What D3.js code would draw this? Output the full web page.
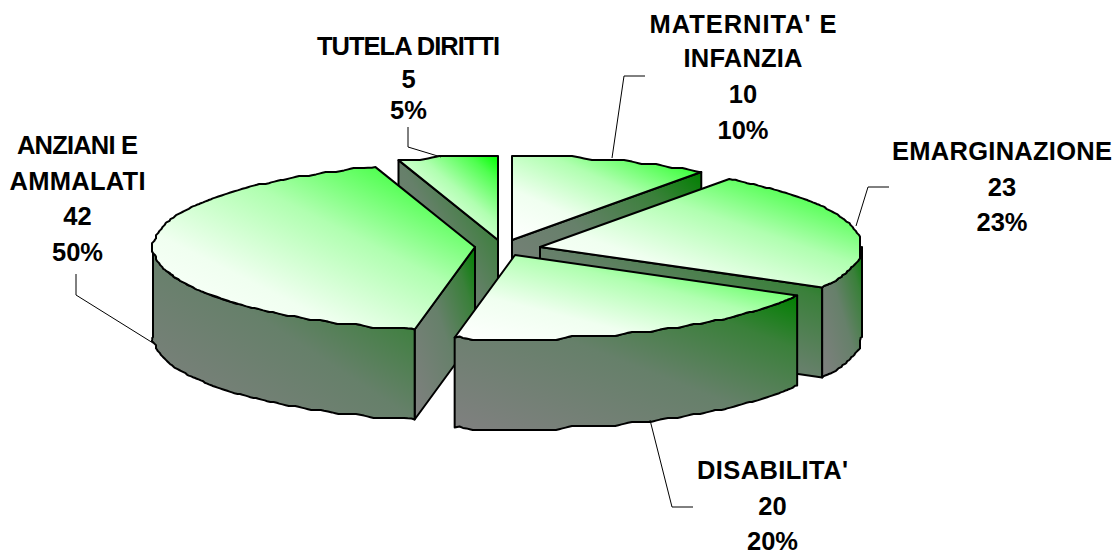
<!DOCTYPE html>
<html>
<head>
<meta charset="utf-8">
<script src="https://cdn.jsdelivr.net/npm/d3@7"></script>
<style>
html,body{margin:0;padding:0;background:#fff}
svg{display:block}
text{font-family:"Liberation Sans",Arial,sans-serif;font-weight:700;font-size:25.5px;fill:#000;text-anchor:middle}
</style>
</head>
<body>
<svg id="c" width="1120" height="554"></svg>
<script>
// ---- data ----
const categories = ["MATERNITA' E INFANZIA", "EMARGINAZIONE", "DISABILITA'", "ANZIANI E AMMALATI", "TUTELA DIRITTI"];
const values = [10, 23, 20, 42, 5];
const percentLabels = ["10%", "23%", "20%", "50%", "5%"];

// ---- layout ----
const W = 1120, H = 554;
const cx = 505, cy = 248, rx = 322, ry = 84, depth = 90;
const shiftX = [7, 35, 10, -30, -7];   // explosion of each slice
const shiftY = [-8, -1, 7, -1, -8];
const drawOrder = [4, 0, 3, 1, 2];     // back to front
const labelLines = [["MATERNITA' E", "INFANZIA"], ["EMARGINAZIONE"], ["DISABILITA'"], ["ANZIANI E", "AMMALATI"], ["TUTELA DIRITTI"]];
const labelWidths = [[187, 119], [220], [151], [121, 136], [183]];
const labelX = [743, 1002, 772.5, 77.5, 408.5];
const labelY = [[33, 67, 103, 139], [160, 196, 231], [479, 515, 550], [154, 190, 225, 261], [55, 88, 119]];
const leaders = [
  [[612, 158], [624, 76], [645, 76]],
  [[856, 226], [868, 187], [889, 187]],
  [[650, 420], [672, 507], [693, 507]],
  [[153, 343], [76, 295], [76, 274]],
  [[441, 157], [408, 147], [408, 127]]
];

const svg = d3.select("#c");
const defs = svg.append("defs");

const slices = d3.pie().sort(null).value(d => d)(values);
const unitX = d3.scaleLinear().domain([-1, 1]).range([-rx, rx]);
const unitY = d3.scaleLinear().domain([-1, 1]).range([ry, -ry]);

let gid = 0;
function gradient(stops) {
  const id = "g" + (gid++);
  const g = defs.append("linearGradient").attr("id", id)
    .attr("x1", 0).attr("y1", 1).attr("x2", 1).attr("y2", 0);
  stops.forEach(([o, c]) => g.append("stop").attr("offset", o).attr("stop-color", c));
  return "url(#" + id + ")";
}
const topStops = [[0, "#ffffff"], [0.3, "#f0fff0"], [0.6, "#b0ffb0"], [0.85, "#50ff50"], [1, "#00ff00"]];
const wallStops = [[0, "#808080"], [0.5, "#66806a"], [0.8, "#3a803a"], [1, "#008000"]];

const q = v => Math.round(v / 4) * 4;
const line = d3.line();
const TAU = Math.PI * 2;

// outline of an arc: snapped to a coarse grid, then softened, as the reference's wavy rim
function soften(pts, r) {
  return pts.map((p, k) => {
    if (k === 0 || k === pts.length - 1) return p;
    const w = Math.min(r, k, pts.length - 1 - k);
    const part = pts.slice(k - w, k + w + 1);
    return [d3.mean(part, d => d[0]), d3.mean(part, d => d[1])];
  });
}

function draw(i) {
  const s = slices[i];
  const ox = cx + shiftX[i], oy = cy + shiftY[i];
  const pt = (a, dz) => [ox + unitX(Math.sin(a)), oy + unitY(Math.cos(a)) + (dz || 0)];
  const arcPts = (a0, a1, dz) => {
    const n = Math.max(2, Math.ceil((a1 - a0) / 0.012));
    const raw = d3.range(0, n + 1).map(k => {
      const p = pt(a0 + (a1 - a0) * k / n, 0);
      return (k === 0 || k === n) ? p : [q(p[0]), q(p[1])];
    });
    return soften(raw, 2).map(p => [p[0], p[1] + (dz || 0)]);
  };
  const apex = dz => [ox, oy + (dz || 0)];
  const g = svg.append("g");
  const face = (pts, fill) => g.append("path")
    .attr("d", line(pts) + "Z").attr("fill", fill)
    .attr("stroke", "#000").attr("stroke-width", 2).attr("stroke-linejoin", "round");

  // flat cut walls turned towards the viewer
  [[s.startAngle, s.startAngle - TAU / 4], [s.endAngle, s.endAngle + TAU / 4]].forEach(([a, n]) => {
    if (Math.cos(n) < -1e-6) {
      face([apex(), pt(a), pt(a, depth), apex(depth)], gradient(wallStops));
    }
  });
  // outer curved wall, front half only
  const a0 = Math.max(s.startAngle, TAU / 4), a1 = Math.min(s.endAngle, 3 * TAU / 4);
  if (a1 > a0) {
    face([...arcPts(a0, a1), ...arcPts(a0, a1, depth).reverse()], gradient(wallStops));
  }
  // top face
  face([apex(), ...arcPts(s.startAngle, s.endAngle)], gradient(topStops));
}
drawOrder.forEach(draw);

// leader lines
svg.append("g").selectAll("path").data(leaders).join("path")
  .attr("d", d => line(d)).attr("fill", "none").attr("stroke", "#000").attr("stroke-width", 1);

// labels
categories.forEach((c, i) => {
  const lines = [...labelLines[i], String(values[i]), percentLabels[i]];
  svg.append("g").selectAll("text").data(lines).join("text")
    .attr("x", labelX[i]).attr("y", (d, k) => labelY[i][k])
    .attr("textLength", (d, k) => labelWidths[i][k] || null)
    .attr("lengthAdjust", "spacing")
    .text(d => d);
});
</script>
</body>
</html>
